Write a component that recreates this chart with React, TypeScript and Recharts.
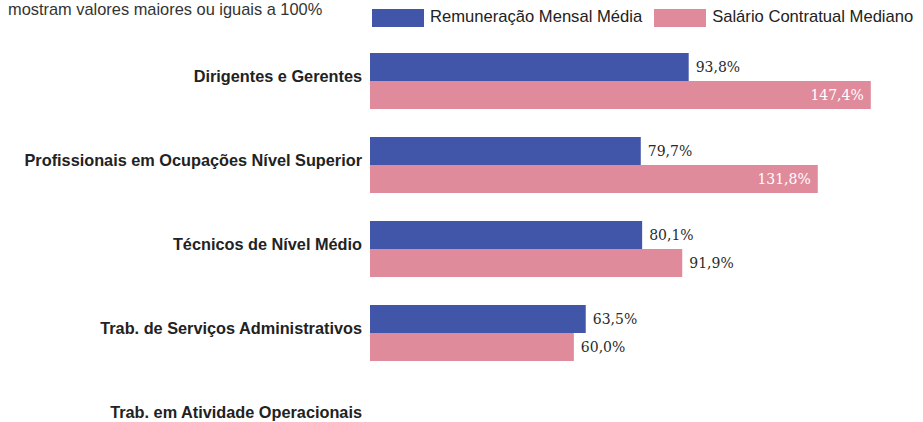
import React from 'react';
import { BarChart, Bar, XAxis, YAxis, Legend, LabelList } from 'recharts';

const categories = [
  'Dirigentes e Gerentes',
  'Profissionais em Ocupações Nível Superior',
  'Técnicos de Nível Médio',
  'Trab. de Serviços Administrativos',
  'Trab. em Atividade Operacionais',
];
const remuneracaoMensalMedia: (number | null)[] = [93.8, 79.7, 80.1, 63.5, null];
const salarioContratualMediano: (number | null)[] = [147.4, 131.8, 91.9, 60.0, null];
const seriesNames = ['Remuneração Mensal Média', 'Salário Contratual Mediano'];
const noteText = 'mostram valores maiores ou iguais a 100%';

const data = categories.map((c, i) => ({
  name: c,
  rem: remuneracaoMensalMedia[i],
  sal: salarioContratualMediano[i],
}));

const BLUE = '#4155A9';
const PINK = '#E08B9B';
const fmt = (v: number) => v.toFixed(1).replace('.', ',') + '%';

const CategoryTick = (props: any) => {
  const { x, y, payload } = props;
  return (
    <text
      x={x}
      y={y - 5}
      dy="0.355em"
      textAnchor="end"
      fill="#222"
      fontFamily="'Liberation Sans', Arial, sans-serif"
      fontWeight="bold"
      fontSize={16.3}
    >
      {payload.value}
    </text>
  );
};

const RemLabel = (props: any) => {
  const { x, y, width, height, value } = props;
  if (value == null) return null;
  return (
    <text
      x={x + width + 7}
      y={y + height / 2}
      dy="0.35em"
      textAnchor="start"
      fill="#2a2a2a"
      fontFamily="'DejaVu Serif', serif"
      fontSize={14}
    >
      {fmt(value)}
    </text>
  );
};

const SalLabel = (props: any) => {
  const { x, y, width, height, value } = props;
  if (value == null) return null;
  const inside = value >= 100;
  return (
    <text
      x={inside ? x + width - 7 : x + width + 7}
      y={y + height / 2}
      dy="0.35em"
      textAnchor={inside ? 'end' : 'start'}
      fill={inside ? '#ffffff' : '#2a2a2a'}
      fontFamily="'DejaVu Serif', serif"
      fontSize={14}
    >
      {fmt(value)}
    </text>
  );
};

const LegendContent = (props: any) => {
  const { payload } = props;
  return (
    <div style={{ display: 'flex', alignItems: 'center' }}>
      {(payload || []).map((p: any, i: number) => (
        <div key={i} style={{ display: 'flex', alignItems: 'center', marginRight: 12 }}>
          <div style={{ width: 52, height: 18, background: p.color, marginRight: 6 }} />
          <span
            style={{
              fontFamily: "'Liberation Sans', Arial, sans-serif",
              fontSize: 16.6,
              color: '#222',
              whiteSpace: 'nowrap',
              position: 'relative',
              top: -1,
            }}
          >
            {p.value}
          </span>
        </div>
      ))}
    </div>
  );
};

export default function App() {
  return (
    <div
      style={{
        position: 'absolute',
        left: 0,
        top: 0,
        width: 923,
        height: 422,
        overflow: 'hidden',
        background: '#fff',
      }}
    >
      <div
        style={{
          position: 'absolute',
          left: 8,
          top: 0,
          fontFamily: "'Liberation Sans', Arial, sans-serif",
          fontSize: 16.4,
          color: '#333',
          whiteSpace: 'nowrap',
        }}
      >
        {noteText}
      </div>
      <BarChart
        width={923}
        height={470}
        data={data}
        layout="vertical"
        margin={{ top: 39, right: 6, bottom: 11, left: 0 }}
        barGap={0}
        barSize={28}
      >
        <XAxis type="number" domain={[0, 161]} hide />
        <YAxis
          type="category"
          dataKey="name"
          width={370}
          axisLine={false}
          tickLine={false}
          tick={<CategoryTick />}
          interval={0}
        />
        <Legend
          layout="horizontal"
          verticalAlign="middle"
          align="center"
          wrapperStyle={{ top: 8, left: 372, width: 560, height: 18 }}
          content={<LegendContent />}
        />
        <Bar dataKey="rem" name={seriesNames[0]} fill={BLUE} isAnimationActive={false}>
          <LabelList dataKey="rem" content={<RemLabel />} />
        </Bar>
        <Bar dataKey="sal" name={seriesNames[1]} fill={PINK} isAnimationActive={false}>
          <LabelList dataKey="sal" content={<SalLabel />} />
        </Bar>
      </BarChart>
    </div>
  );
}
